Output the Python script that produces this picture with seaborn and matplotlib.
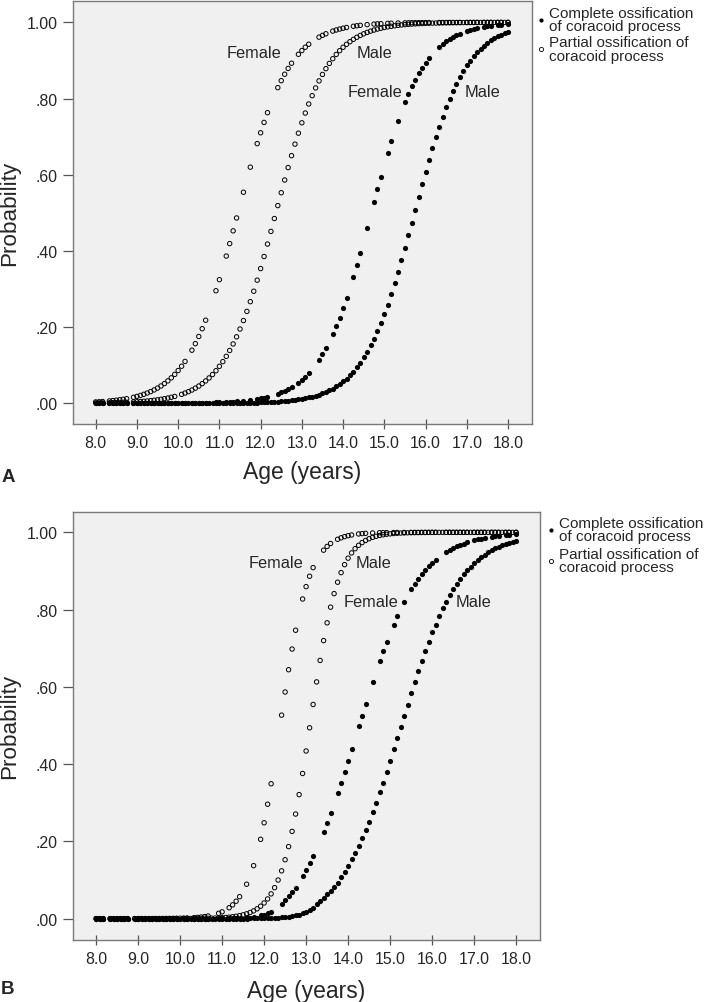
import numpy as np
import pandas as pd
import matplotlib
matplotlib.use("Agg")
import matplotlib.pyplot as plt
import seaborn as sns
from matplotlib.lines import Line2D

# ---------------- data ----------------
# ages of the subjects, in months
female_age_months = [
    96, 97, 98, 100, 101, 102, 103, 104, 105,
    107, 108, 109, 110, 111, 112, 113, 114, 115, 116,
    117, 118, 119, 120, 121, 122, 124, 125, 126, 127,
    128, 131, 132, 134, 135, 136, 137, 139, 141, 143,
    144, 145, 146, 149, 150, 151, 152, 153, 155, 156,
    157, 158, 161, 162, 163, 165, 166, 167, 168, 169,
    171, 172, 173, 175, 177, 178, 179, 181, 182, 184,
    186, 187, 188, 189, 190, 191, 192, 193, 196, 197,
    198, 199, 200, 201, 202, 204, 205, 206, 207, 209,
    210, 211, 213, 214, 216]

male_age_months = [
    96, 97, 98, 100, 101, 102, 103, 104, 105,
    107, 108, 109, 110, 111, 112, 113, 114, 115, 116, 117, 118, 119,
    121, 122, 123, 124, 125, 126, 127, 128, 129, 130, 131, 132,
    133, 134, 135, 136, 137, 138, 139, 140, 141, 142, 143, 144,
    145, 146, 147, 148, 149, 150, 151, 152, 153, 154, 155, 156,
    157, 158, 159, 160, 161, 162, 163, 164, 165, 166, 167, 168,
    169, 170, 171, 172, 173, 174, 175, 176, 177, 178, 179, 180,
    181, 182, 183, 184, 185, 186, 187, 188, 189, 190, 191, 192,
    193, 194, 195, 196, 197, 198, 199, 200, 201, 202, 203, 204,
    205, 206, 207, 208, 209, 210, 211, 212, 213, 214, 215, 216]

# Panel A
a_partial_female = [
    .0036, .0041, .0047, .0062, .0071, .0081, .0093, .0106, .0121,
    .0158, .0181, .0207, .0236, .0270, .0308, .0351, .0400, .0455, .0518,
    .0589, .0669, .0759, .0860, .0973, .1099, .1394, .1566, .1754, .1958,
    .2181, .2955, .3245, .3865, .4192, .4527, .4865, .5540, .6199, .6816,
    .7101, .7373, .7628, .8286, .8469, .8638, .8790, .8927, .9161, .9259,
    .9347, .9426, .9611, .9658, .9700, .9770, .9799, .9824, .9846, .9865,
    .9897, .9910, .9921, .9940, .9954, .9960, .9965, .9973, .9977, .9982,
    .9986, .9988, .9990, .9991, .9992, .9993, .9994, .9995, .9996, .9996,
    .9996, .9997, .9997, .9997, .9998, .9998, .9998, .9998, .9998, .9999,
    .9999, .9999, .9999, .9999, .9999]

a_complete_female = [
    .0000, .0000, .0000, .0000, .0000, .0000, .0001, .0001, .0001,
    .0001, .0001, .0001, .0001, .0002, .0002, .0002, .0002, .0003, .0003,
    .0003, .0004, .0004, .0005, .0006, .0007, .0009, .0010, .0011, .0013,
    .0015, .0022, .0026, .0034, .0038, .0044, .0050, .0066, .0086, .0112,
    .0128, .0146, .0168, .0249, .0285, .0323, .0369, .0419, .0541, .0618,
    .0698, .0794, .1141, .1290, .1443, .1810, .2026, .2244, .2497, .2755,
    .3325, .3631, .3949, .4608, .5282, .5617, .5946, .6577, .6874, .7423,
    .7905, .8120, .8318, .8498, .8662, .8811, .8945, .9066, .9358, .9434,
    .9502, .9562, .9615, .9662, .9703, .9772, .9800, .9825, .9847, .9883,
    .9897, .9910, .9931, .9940, .9954]

a_partial_male = [
    .0008, .0009, .0011, .0014, .0016, .0018, .0021, .0024, .0027,
    .0036, .0041, .0047, .0054, .0061, .0070, .0081, .0092, .0105, .0121, .0138, .0158, .0180,
    .0235, .0269, .0306, .0349, .0398, .0453, .0516, .0587, .0666, .0755, .0856, .0971,
    .1094, .1233, .1387, .1558, .1745, .1950, .2172, .2412, .2668, .2942, .3232, .3537,
    .3853, .4180, .4512, .4850, .5190, .5528, .5861, .6187, .6500, .6803, .7091, .7363,
    .7619, .7857, .8075, .8278, .8463, .8632, .8784, .8921, .9045, .9157, .9256, .9345,
    .9423, .9492, .9554, .9608, .9656, .9699, .9736, .9769, .9797, .9823, .9845, .9865,
    .9881, .9896, .9909, .9921, .9931, .9939, .9947, .9954, .9960, .9965, .9969, .9973,
    .9976, .9979, .9982, .9984, .9986, .9988, .9989, .9990, .9992, .9993, .9994, .9994,
    .9995, .9996, .9996, .9996, .9997, .9997, .9997, .9998, .9998, .9998, .9998, .9998]

a_complete_male = [
    .0000, .0000, .0000, .0000, .0000, .0000, .0000, .0000, .0000,
    .0000, .0000, .0000, .0000, .0000, .0000, .0000, .0000, .0000, .0001, .0001, .0001, .0001,
    .0001, .0001, .0001, .0002, .0002, .0002, .0002, .0003, .0003, .0004, .0004, .0005,
    .0005, .0006, .0007, .0008, .0009, .0011, .0012, .0014, .0016, .0018, .0021, .0024,
    .0027, .0031, .0036, .0041, .0047, .0053, .0061, .0070, .0079, .0091, .0104, .0119,
    .0135, .0155, .0176, .0202, .0230, .0263, .0299, .0342, .0388, .0443, .0502, .0573,
    .0648, .0737, .0832, .0945, .1062, .1203, .1347, .1519, .1694, .1900, .2108, .2351,
    .2592, .2865, .3148, .3446, .3757, .4078, .4408, .4743, .5080, .5417, .5749, .6075,
    .6392, .6697, .6989, .7265, .7525, .7768, .7993, .8201, .8392, .8566, .8724, .8867,
    .8995, .9111, .9214, .9306, .9389, .9462, .9527, .9584, .9634, .9679, .9719, .9753]

# Panel B
b_partial_female = [
    .0000, .0000, .0000, .0000, .0000, .0000, .0000, .0000, .0000,
    .0000, .0001, .0001, .0001, .0001, .0001, .0002, .0002, .0003, .0004,
    .0005, .0006, .0008, .0010, .0012, .0016, .0025, .0032, .0041, .0052,
    .0067, .0137, .0175, .0281, .0356, .0450, .0567, .0890, .1371, .2053,
    .2480, .2961, .3491, .5267, .5866, .6443, .6978, .7465, .8274, .8594,
    .8863, .9086, .9538, .9634, .9711, .9820, .9858, .9889, .9913, .9931,
    .9958, .9967, .9974, .9984, .9990, .9991, .9993, .9995, .9996, .9997,
    .9998, .9998, .9998, .9999, .9999, .9999, .9999, .9999, 1.0, 1.0,
    1.0, 1.0, 1.0, 1.0, 1.0, 1.0, 1.0, 1.0, 1.0, 1.0,
    1.0, 1.0, 1.0, 1.0, 1.0]

b_complete_female = [
    .0000, .0000, .0000, .0000, .0000, .0000, .0000, .0000, .0000,
    .0000, .0000, .0000, .0000, .0000, .0000, .0000, .0000, .0000, .0000,
    .0000, .0000, .0000, .0000, .0000, .0000, .0001, .0001, .0001, .0001,
    .0002, .0004, .0005, .0009, .0011, .0014, .0018, .0030, .0049, .0081,
    .0103, .0133, .0170, .0370, .0470, .0590, .0691, .0802, .1101, .1256,
    .1431, .1625, .2244, .2479, .2729, .3252, .3521, .3799, .4085, .4378,
    .4975, .5250, .5548, .6130, .6660, .6921, .7171, .7613, .7824, .8205,
    .8520, .8665, .8797, .8909, .9020, .9121, .9206, .9289, .9483, .9539,
    .9589, .9634, .9671, .9707, .9739, .9792, .9815, .9834, .9852, .9882,
    .9894, .9906, .9925, .9933, .9947]

b_partial_male = [
    .0000, .0000, .0000, .0000, .0000, .0000, .0000, .0000, .0000,
    .0000, .0000, .0000, .0000, .0000, .0000, .0000, .0000, .0000, .0000, .0001, .0001, .0001,
    .0002, .0002, .0003, .0003, .0004, .0005, .0007, .0009, .0011, .0014, .0018, .0023,
    .0029, .0037, .0048, .0061, .0077, .0098, .0124, .0158, .0200, .0253, .0321, .0405,
    .0509, .0640, .0801, .0998, .1237, .1524, .1864, .2258, .2707, .3210, .3757, .4339,
    .4940, .5543, .6128, .6684, .7197, .7657, .8063, .8413, .8709, .8957, .9163, .9331,
    .9467, .9576, .9664, .9734, .9790, .9835, .9870, .9897, .9919, .9936, .9950, .9961,
    .9969, .9976, .9981, .9985, .9988, .9991, .9993, .9994, .9995, .9996, .9997, .9998,
    .9998, .9998, .9999, .9999, .9999, .9999, .9999, .9999, .9999, .9999, .9999, .9999,
    .9999, .9999, .9999, .9999, .9999, .9999, .9999, .9999, .9999, .9999, .9999, .9999]

b_complete_male = [
    .0000, .0000, .0000, .0000, .0000, .0000, .0000, .0000, .0000,
    .0000, .0000, .0000, .0000, .0000, .0000, .0000, .0000, .0000, .0000, .0000, .0000, .0000,
    .0000, .0000, .0000, .0000, .0000, .0000, .0000, .0000, .0000, .0000, .0000, .0001,
    .0001, .0001, .0001, .0001, .0002, .0002, .0002, .0003, .0004, .0005, .0007, .0009,
    .0011, .0014, .0018, .0024, .0030, .0039, .0050, .0064, .0082, .0105, .0134, .0170,
    .0221, .0285, .0370, .0455, .0540, .0630, .0711, .0816, .0928, .1072, .1213, .1359,
    .1532, .1694, .1885, .2092, .2297, .2497, .2749, .2994, .3274, .3521, .3799, .4085,
    .4378, .4675, .4950, .5250, .5523, .5842, .6130, .6411, .6660, .6921, .7171, .7408,
    .7613, .7842, .8038, .8205, .8376, .8520, .8665, .8797, .8909, .9020, .9113, .9206,
    .9282, .9358, .9421, .9483, .9535, .9585, .9627, .9668, .9701, .9734, .9761, .9788]

x_ticks = [8, 9, 10, 11, 12, 13, 14, 15, 16, 17, 18]
x_tick_labels = ["8.0", "9.0", "10.0", "11.0", "12.0", "13.0", "14.0",
                 "15.0", "16.0", "17.0", "18.0"]
y_ticks = [0.0, 0.2, 0.4, 0.6, 0.8, 1.0]
y_tick_labels = [".00", ".20", ".40", ".60", ".80", "1.00"]
legend_labels = ["Complete ossification\nof coracoid process",
                 "Partial ossification of\ncoracoid process"]

# ---------------- style ----------------
sns.set_style("ticks")
plt.rcParams["font.family"] = ["Liberation Sans", "DejaVu Sans"]

W, H = 708, 1003
fig = plt.figure(figsize=(W / 100, H / 100), dpi=100)
fig.patch.set_facecolor("white")

SPINE = "#7a7a7a"
BG = "#f0f0f0"


def px_axes(left, top, right, bottom):
    return fig.add_axes([left / W, 1 - bottom / H, (right - left) / W, (bottom - top) / H])


def draw_panel(ax, fem, mal, ylim, labels, xlabelpad):
    ax.set_facecolor(BG)
    # filled = complete ossification
    sns.scatterplot(data=fem, x="age", y="complete", ax=ax, color="black",
                    s=14, linewidth=0, legend=False, zorder=3)
    sns.scatterplot(data=mal, x="age", y="complete", ax=ax, color="black",
                    s=14, linewidth=0, legend=False, zorder=3)
    # open = partial ossification
    sns.scatterplot(data=fem, x="age", y="partial", ax=ax, s=10,
                    facecolors="none", edgecolor="black", linewidth=0.7,
                    legend=False, zorder=4)
    sns.scatterplot(data=mal, x="age", y="partial", ax=ax, s=10,
                    facecolors="none", edgecolor="black", linewidth=0.7,
                    legend=False, zorder=4)
    ax.set_xlim(7.442, 18.57)
    ax.set_ylim(*ylim)
    ax.set_xticks(x_ticks)
    ax.set_xticklabels(x_tick_labels)
    ax.set_yticks(y_ticks)
    ax.set_yticklabels(y_tick_labels)
    ax.minorticks_off()
    for sp in ax.spines.values():
        sp.set_visible(True)
        sp.set_color(SPINE)
        sp.set_linewidth(1.0)
    ax.tick_params(axis="x", direction="inout", length=7.0, width=0.9,
                   color="#555555", labelsize=11.4, pad=4.6)
    ax.tick_params(axis="y", direction="out", length=7.5, width=0.9,
                   color="#555555", labelsize=11.4, pad=3.2)
    ax.set_xlabel("Age (years)", fontsize=16.5, labelpad=xlabelpad)
    ax.set_ylabel("Probability", fontsize=16.2, labelpad=5.0)
    for (tx, ty, t) in labels:
        ax.text(tx, ty, t, fontsize=11.8, ha="left", va="baseline", zorder=5)


fem_a = pd.DataFrame({"age": np.array(female_age_months) / 12.0,
                      "partial": a_partial_female, "complete": a_complete_female})
mal_a = pd.DataFrame({"age": np.array(male_age_months) / 12.0,
                      "partial": a_partial_male, "complete": a_complete_male})
fem_b = pd.DataFrame({"age": np.array(female_age_months) / 12.0,
                      "partial": b_partial_female, "complete": b_complete_female})
mal_b = pd.DataFrame({"age": np.array(male_age_months) / 12.0,
                      "partial": b_partial_male, "complete": b_complete_male})

axA = px_axes(72.7, 2.0, 531.5, 424.5)
draw_panel(axA, fem_a, mal_a, (-0.053, 1.056),
           [(11.18, 0.908, "Female"), (14.32, 0.908, "Male"),
            (14.11, 0.807, "Female"), (16.96, 0.807, "Male")], 7.5)

axB = px_axes(72.7, 512.7, 540.0, 941.0)
draw_panel(axB, fem_b, mal_b, (-0.0554, 1.0534),
           [(11.63, 0.909, "Female"), (14.18, 0.909, "Male"),
            (13.89, 0.810, "Female"), (16.55, 0.810, "Male")], 9.5)


def legend_at(mx, y1, y2):
    fig.add_artist(Line2D([mx / W], [1 - y1 / H], marker="o", ls="", color="black",
                          markersize=3.0, markeredgewidth=0, transform=fig.transFigure))
    fig.add_artist(Line2D([mx / W], [1 - y2 / H], marker="o", ls="", markersize=3.0,
                          markerfacecolor="none", markeredgecolor="black",
                          markeredgewidth=0.6, transform=fig.transFigure))
    fig.text((mx + 8) / W, 1 - y1 / H, legend_labels[0], fontsize=11.0,
             ha="left", va="center", linespacing=0.92)
    fig.text((mx + 8) / W, 1 - y2 / H, legend_labels[1], fontsize=11.0,
             ha="left", va="center", linespacing=0.92)


legend_at(541, 20.7, 50.0)
legend_at(551, 530.7, 561.7)

fig.text(8 / W, 1 - 478 / H, "A", fontsize=13.5, fontweight="bold", ha="center", va="center")
fig.text(8 / W, 1 - 990 / H, "B", fontsize=13.5, fontweight="bold", ha="center", va="center")

fig.savefig("out.png", dpi=100)
